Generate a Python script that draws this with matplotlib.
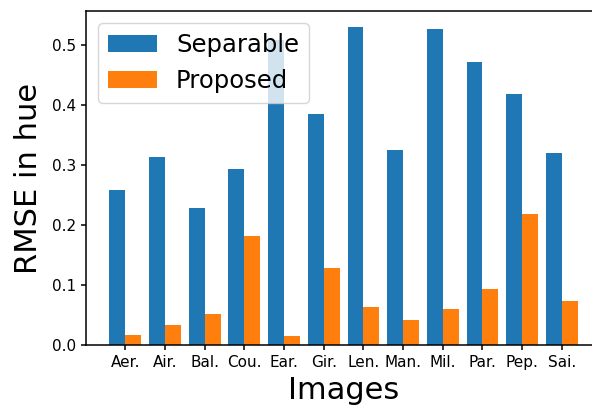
import numpy as np
import matplotlib
matplotlib.use('Agg')
import matplotlib.pyplot as plt

# Data
images = ['Aer.', 'Air.', 'Bal.', 'Cou.', 'Ear.', 'Gir.', 'Len.', 'Man.', 'Mil.', 'Par.', 'Pep.', 'Sai.']
separable = [0.258, 0.313, 0.229, 0.293, 0.508, 0.385, 0.530, 0.325, 0.526, 0.471, 0.419, 0.320]
proposed = [0.017, 0.033, 0.052, 0.181, 0.015, 0.128, 0.063, 0.042, 0.060, 0.093, 0.218, 0.074]

WIDTH = 0.4

plt.rcParams['axes.linewidth'] = 1.1
plt.rcParams['xtick.major.width'] = 1.1
plt.rcParams['ytick.major.width'] = 1.1
plt.rcParams['xtick.major.size'] = 3.8
plt.rcParams['ytick.major.size'] = 3.8

fig = plt.figure(figsize=(5.92, 4.07), dpi=100)
# axes runs past the right edge, like the cropped original
ax = fig.add_axes([0.1453, 0.1523, 0.87, 0.8206])

x = np.arange(len(images))
ax.bar(x - WIDTH / 2, separable, WIDTH, label='Separable')
ax.bar(x + WIDTH / 2, proposed, WIDTH, label='Proposed')

ax.set_xticks(x)
ax.set_xticklabels(images)
ax.tick_params(labelsize=11)
ax.set_xlabel('Images', fontsize=22)
ax.set_ylabel('RMSE in hue', fontsize=22, labelpad=6)
ax.spines['right'].set_visible(False)
ax.legend(loc='upper left', fontsize=17.5)

fig.savefig('out.png', dpi=100)
